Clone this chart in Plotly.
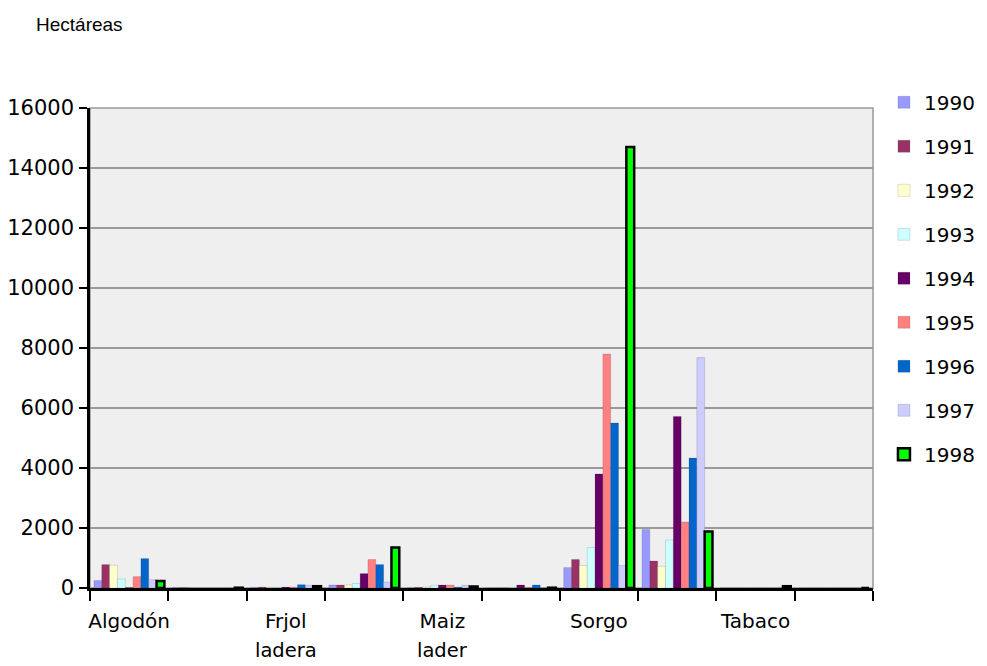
import plotly.graph_objects as go

categories = ["Algodón", "(sin etiqueta 2)", "Frjol ladera", "(sin etiqueta 4)", "Maiz lader",
              "(sin etiqueta 6)", "Sorgo", "(sin etiqueta 8)", "Tabaco", "(sin etiqueta 10)"]
tick_first_line = ["Algodón", "", "Frjol", "", "Maiz", "", "Sorgo", "", "Tabaco", ""]
tick_second_line = {"Frjol ladera": "ladera", "Maiz lader": "lader"}

years = ["1990", "1991", "1992", "1993", "1994", "1995", "1996", "1997", "1998"]

v1990 = [250, 20, 20, 100, 0, 0, 680, 1950, 0, 0]
v1991 = [780, 10, 30, 100, 20, 0, 950, 900, 0, 0]
v1992 = [760, 0, 20, 100, 30, 0, 750, 720, 0, 0]
v1993 = [300, 0, 20, 150, 90, 20, 1350, 1600, 0, 0]
v1994 = [10, 0, 30, 480, 100, 100, 3800, 5720, 0, 0]
v1995 = [380, 0, 30, 950, 100, 20, 7800, 2200, 0, 0]
v1996 = [980, 0, 110, 780, 30, 100, 5500, 4330, 0, 0]
v1997 = [280, 0, 90, 200, 90, 0, 750, 7680, 0, 0]
v1998 = [230, 10, 60, 1350, 50, 10, 14700, 1880, 60, 0]
series = [v1990, v1991, v1992, v1993, v1994, v1995, v1996, v1997, v1998]

colors = ["#9999FF", "#993366", "#FFFFCC", "#CCFFFF", "#660066",
          "#FF8080", "#0066CC", "#CCCCFF", "#00FF00"]

fig = go.Figure()
for yr, vals, col in zip(years, series, colors):
    is_last = yr == "1998"
    fig.add_trace(go.Bar(
        x=categories, y=vals, name=yr, legendgroup=yr,
        marker=dict(color=col,
                    line=dict(color="#000000" if is_last else "rgba(0,0,0,0.25)",
                              width=2.5 if is_last else 0.5)),
    ))

annotations = [dict(text="Hectáreas", xref="paper", yref="paper",
                    x=-0.0715, y=1.173, xanchor="left", yanchor="middle",
                    showarrow=False,
                    font=dict(family="Liberation Sans", size=19, color="#000"))]
for cat, second in tick_second_line.items():
    annotations.append(dict(text=second, xref="x", yref="paper", x=cat, y=-0.1583,
                            xanchor="center", yanchor="bottom", showarrow=False,
                            font=dict(family="DejaVu Sans", size=19.5, color="#000")))

fig.update_layout(
    width=979, height=658,
    margin=dict(l=82, r=114, t=100, b=78, autoexpand=False),
    paper_bgcolor="white",
    plot_bgcolor="#efefef",
    barmode="group", bargap=0.1, bargroupgap=0,
    font=dict(family="DejaVu Sans", size=20, color="#000"),
    legend=dict(x=1.014, y=1.0525, xanchor="left", yanchor="top",
                font=dict(family="DejaVu Sans", size=20, color="#000"),
                tracegroupgap=15, bgcolor="rgba(0,0,0,0)", maxheight=620,
                itemwidth=30),
    annotations=annotations,
    shapes=[dict(type="rect", xref="paper", yref="paper", x0=0, x1=1, y0=0, y1=1,
                 line=dict(color="#999999", width=1.5), layer="below")],
)
fig.update_xaxes(
    type="category", tickmode="array", tickvals=categories, ticktext=tick_first_line,
    tickangle=0, automargin=False,
    tickson="boundaries", ticks="outside", ticklen=10, tickwidth=2, tickcolor="#000",
    showline=True, linecolor="#000", linewidth=2.5, showgrid=False,
    ticklabelstandoff=13,
)
fig.update_yaxes(
    range=[0, 16000], dtick=2000, tickmode="linear", tick0=0, tickformat="d",
    automargin=False,
    ticks="outside", ticklen=8, tickwidth=2, tickcolor="#000",
    showline=True, linecolor="#000", linewidth=2.5,
    showgrid=True, gridcolor="#9a9a9a", gridwidth=2,
    zeroline=False, ticklabelstandoff=1,
    tickfont=dict(family="DejaVu Sans", size=21),
)
fig.write_html("out.html")
